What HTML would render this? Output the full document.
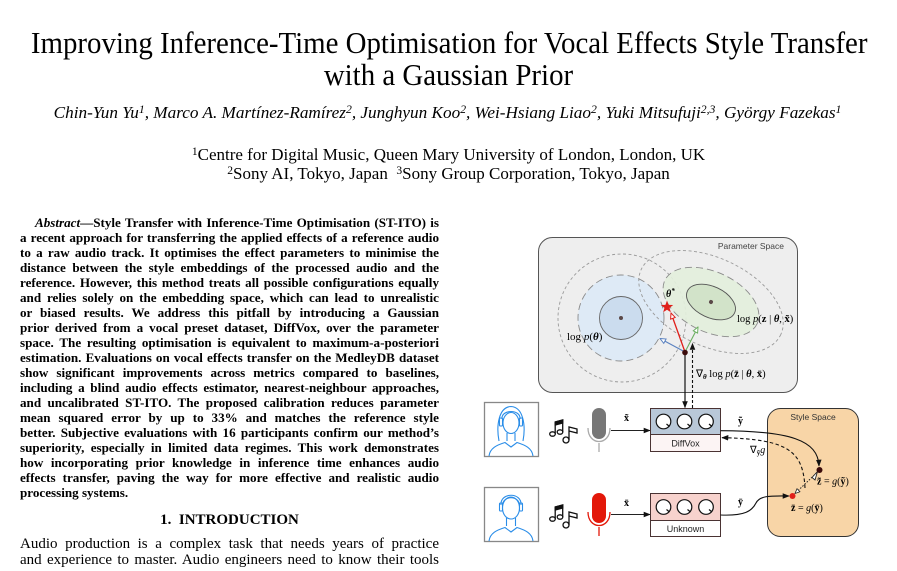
<!DOCTYPE html>
<html>
<head>
<meta charset="utf-8">
<style>
  html,body{margin:0;padding:0;background:#fff;}
  body{width:897px;height:571px;position:relative;overflow:hidden;font-family:"Liberation Serif",serif;color:#000;}
  .abs{position:absolute;}
  .title{left:0;width:897px;top:26.5px;text-align:center;font-size:31px;line-height:32px;transform:scaleX(0.931);transform-origin:448px 0;white-space:nowrap;}
  .authors{left:0;width:895px;top:102.5px;text-align:center;font-size:17.2px;line-height:19px;font-style:italic;white-space:nowrap;}
  .aff{left:0;width:897px;text-align:center;font-size:17px;line-height:19px;white-space:nowrap;}
  sup{font-size:0.68em;line-height:0;vertical-align:0.45em;}
  .abstract{left:20px;width:419px;top:215px;font-weight:bold;font-size:13.1px;}
  .abstract div{height:15px;line-height:15px;text-align:justify;text-align-last:justify;overflow:hidden;}
  .abstract div.last{text-align-last:left;}
  .sec{left:20px;width:419px;top:512px;text-align:center;font-weight:bold;font-size:15px;line-height:16px;white-space:nowrap;}
  .body{left:20px;width:419px;top:535.5px;font-size:15px;}
  .body div{height:16.5px;line-height:16.5px;text-align:justify;text-align-last:justify;overflow:hidden;}
</style>
</head>
<body>

<div class="abs title">Improving Inference-Time Optimisation for Vocal Effects Style Transfer<br>with a Gaussian Prior</div>

<div class="abs authors">Chin-Yun Yu<sup>1</sup>, Marco A. Martínez-Ramírez<sup>2</sup>, Junghyun Koo<sup>2</sup>, Wei-Hsiang Liao<sup>2</sup>, Yuki Mitsufuji<sup>2,3</sup>, György Fazekas<sup>1</sup></div>

<div class="abs aff" style="top:144.75px;"><sup>1</sup>Centre for Digital Music, Queen Mary University of London, London, UK</div>
<div class="abs aff" style="top:163.75px;"><sup>2</sup>Sony AI, Tokyo, Japan&nbsp;&nbsp;<sup>3</sup>Sony Group Corporation, Tokyo, Japan</div>

<div class="abs abstract">
  <div style="padding-left:15px;"><i>Abstract</i>—Style Transfer with Inference-Time Optimisation (ST-ITO) is</div>
  <div>a recent approach for transferring the applied effects of a reference audio</div>
  <div>to a raw audio track. It optimises the effect parameters to minimise the</div>
  <div>distance between the style embeddings of the processed audio and the</div>
  <div>reference. However, this method treats all possible configurations equally</div>
  <div>and relies solely on the embedding space, which can lead to unrealistic</div>
  <div>or biased results. We address this pitfall by introducing a Gaussian</div>
  <div>prior derived from a vocal preset dataset, DiffVox, over the parameter</div>
  <div>space. The resulting optimisation is equivalent to maximum-a-posteriori</div>
  <div>estimation. Evaluations on vocal effects transfer on the MedleyDB dataset</div>
  <div>show significant improvements across metrics compared to baselines,</div>
  <div>including a blind audio effects estimator, nearest-neighbour approaches,</div>
  <div>and uncalibrated ST-ITO. The proposed calibration reduces parameter</div>
  <div>mean squared error by up to 33% and matches the reference style</div>
  <div>better. Subjective evaluations with 16 participants confirm our method’s</div>
  <div>superiority, especially in limited data regimes. This work demonstrates</div>
  <div>how incorporating prior knowledge in inference time enhances audio</div>
  <div>effects transfer, paving the way for more effective and realistic audio</div>
  <div class="last">processing systems.</div>
</div>

<div class="abs sec">1.&nbsp;&nbsp;INTRODUCTION</div>

<div class="abs body">
  <div>Audio production is a complex task that needs years of practice</div>
  <div>and experience to master. Audio engineers need to know their tools</div>
</div>

<svg class="abs" style="left:0;top:0;" width="897" height="571" viewBox="0 0 897 571" xmlns="http://www.w3.org/2000/svg">
  <defs>
    <marker id="ab" viewBox="0 0 10 10" refX="9" refY="5" markerWidth="7" markerHeight="7" orient="auto" markerUnits="userSpaceOnUse">
      <path d="M0,1 L10,5 L0,9 z" fill="#111"/>
    </marker>
    <marker id="or" viewBox="0 0 10 10" refX="9" refY="5" markerWidth="7" markerHeight="7" orient="auto" markerUnits="userSpaceOnUse">
      <path d="M1,1.5 L9,5 L1,8.5 z" fill="#fff" stroke="#e0201b" stroke-width="1.4"/>
    </marker>
    <marker id="obl" viewBox="0 0 10 10" refX="9" refY="5" markerWidth="7" markerHeight="7" orient="auto" markerUnits="userSpaceOnUse">
      <path d="M1,1.5 L9,5 L1,8.5 z" fill="#fff" stroke="#5b82c0" stroke-width="1.4"/>
    </marker>
    <marker id="og" viewBox="0 0 10 10" refX="9" refY="5" markerWidth="7" markerHeight="7" orient="auto" markerUnits="userSpaceOnUse">
      <path d="M1,1.5 L9,5 L1,8.5 z" fill="#fff" stroke="#6aae5f" stroke-width="1.4"/>
    </marker>
    <marker id="ok" viewBox="0 0 10 10" refX="9" refY="5" markerWidth="6" markerHeight="6" orient="auto" markerUnits="userSpaceOnUse">
      <path d="M1,1.5 L9,5 L1,8.5 z" fill="#fff" stroke="#222" stroke-width="1.3"/>
    </marker>
  </defs>

  <!-- Parameter space -->
  <rect x="538.5" y="237.5" width="259" height="155" rx="14" fill="#eeeeee" stroke="#555" stroke-width="1"/>
  <text x="784" y="249" font-family="Liberation Sans, sans-serif" font-size="8.5" fill="#444" text-anchor="end">Parameter Space</text>

  <!-- prior -->
  <circle cx="622" cy="318" r="64" fill="none" stroke="#9a9a9a" stroke-width="0.9" stroke-dasharray="3,2.5"/>
  <circle cx="621" cy="318" r="43" fill="#deeaf6" stroke="#8a8a8a" stroke-width="0.9" stroke-dasharray="7,4"/>

  <!-- likelihood -->
  <g transform="translate(711,302) rotate(25)">
    <ellipse rx="77" ry="44" fill="none" stroke="#9a9a9a" stroke-width="0.9" stroke-dasharray="3,2.5"/>
    <ellipse rx="51" ry="30" fill="#e3efdc" fill-opacity="0.92" stroke="#8a8a8a" stroke-width="0.9" stroke-dasharray="7,4"/>
    <ellipse rx="26" ry="15.5" fill="#d2e3c9" stroke="#555" stroke-width="0.9"/>
    <circle r="2" fill="#5a4848"/>
  </g>

  <circle cx="621" cy="318" r="21.5" fill="#cbdcee" stroke="#666" stroke-width="0.9"/>
  <circle cx="621" cy="318" r="2" fill="#5a4848"/>

  <text x="567" y="340" font-family="Liberation Serif, serif" font-size="11">log <tspan font-style="italic">p</tspan>(<tspan font-weight="bold" font-style="italic">θ</tspan>)</text>
  <text x="737" y="322" font-family="Liberation Serif, serif" font-size="10.5">log <tspan font-style="italic">p</tspan>(<tspan font-weight="bold">z</tspan> | <tspan font-weight="bold" font-style="italic">θ</tspan>, <tspan font-weight="bold">x̃</tspan>)</text>

  <text x="666" y="297" font-family="Liberation Serif, serif" font-size="10" font-style="italic" font-weight="bold">θ<tspan font-size="7" dy="-4">*</tspan></text>
  <polygon points="667,300.5 668.59,304.82 673.18,304.99 669.57,307.83 670.82,312.26 667,309.7 663.18,312.26 664.43,307.83 660.82,304.99 665.41,304.82" fill="#e0201b"/>

  <!-- gradient arrows -->
  <line x1="685" y1="352" x2="671" y2="313" stroke="#e0201b" stroke-width="1.3" marker-end="url(#or)"/>
  <line x1="685" y1="352" x2="660" y2="338.5" stroke="#5b82c0" stroke-width="1.1" marker-end="url(#obl)"/>
  <line x1="685" y1="352" x2="698" y2="327" stroke="#6aae5f" stroke-width="1.1" marker-end="url(#og)"/>

  <line x1="685" y1="353" x2="685" y2="407.5" stroke="#111" stroke-width="1.2" marker-end="url(#ab)"/>
  <line x1="692.5" y1="408" x2="692.5" y2="343.5" stroke="#111" stroke-width="1.1" stroke-dasharray="3,2" marker-end="url(#ab)"/>
  <circle cx="685" cy="352.5" r="2.8" fill="#3b0b0b"/>

  <text x="696" y="377" font-family="Liberation Serif, serif" font-size="10.5">∇<tspan font-size="7" dy="2" font-weight="bold" font-style="italic">θ</tspan><tspan dy="-2"> log </tspan><tspan font-style="italic">p</tspan>(<tspan font-weight="bold">z̄</tspan> | <tspan font-weight="bold" font-style="italic">θ</tspan>, <tspan font-weight="bold">x̄</tspan>)</text>

  <!-- Person 1 -->
  <rect x="484.5" y="402.5" width="54" height="54" fill="#fff" stroke="#888" stroke-width="1.3"/>
  <g fill="none" stroke="#2a8de8" stroke-width="1.1">
    <path d="M499 441 C496 425 499 407 511 406.5 C523 407 526 425 523 441"/>
    <ellipse cx="511" cy="423" rx="8" ry="10.5"/>
    <path d="M502 419 C501 409 521 409 520 419"/>
    <rect x="499.5" y="418" width="3" height="8" rx="1"/>
    <rect x="519.5" y="418" width="3" height="8" rx="1"/>
    <path d="M507 433 L507 441 M515 433 L515 441"/>
    <path d="M489 456 C490 448 497 445 505 442.5 L511 447 L517 442.5 C525 445 532 448 533 456"/>
  </g>
  <!-- Person 2 -->
  <rect x="484.5" y="487.5" width="54" height="54" fill="#fff" stroke="#888" stroke-width="1.3"/>
  <g fill="none" stroke="#2a8de8" stroke-width="1.1">
    <ellipse cx="511" cy="508" rx="8.5" ry="11"/>
    <path d="M502.5 506 C502 495 520 495 519.5 506"/>
    <path d="M501 505 C500 492 522 492 521 505"/>
    <rect x="499.5" y="503" width="3" height="8" rx="1"/>
    <rect x="519.5" y="503" width="3" height="8" rx="1"/>
    <path d="M506.5 518 L506.5 526 M515.5 518 L515.5 526"/>
    <path d="M489 541 C490 533 497 530 505 527.5 L511 532 L517 527.5 C525 530 532 533 533 541"/>
  </g>

  <!-- music notes 1 -->
  <g fill="#fff" stroke="#111" stroke-width="1.3">
    <ellipse cx="552.5" cy="434" rx="2.8" ry="2.2"/>
    <ellipse cx="560" cy="432" rx="2.8" ry="2.2"/>
    <path d="M555.2 434 L555.2 422 L562.7 420 L562.7 432" fill="none"/>
    <path d="M555.2 422 L562.7 420 L562.7 423 L555.2 425 z" fill="#111"/>
    <circle cx="566" cy="440" r="3"/>
    <path d="M569 440 L569 427 L577 429 L577 433 L569 431" fill="none"/>
  </g>
  <!-- music notes 2 -->
  <g fill="#fff" stroke="#111" stroke-width="1.3">
    <ellipse cx="552.5" cy="519" rx="2.8" ry="2.2"/>
    <ellipse cx="560" cy="517" rx="2.8" ry="2.2"/>
    <path d="M555.2 519 L555.2 507 L562.7 505 L562.7 517" fill="none"/>
    <path d="M555.2 507 L562.7 505 L562.7 508 L555.2 510 z" fill="#111"/>
    <circle cx="566" cy="525" r="3"/>
    <path d="M569 525 L569 512 L577 514 L577 518 L569 516" fill="none"/>
  </g>

  <!-- mic 1 -->
  <path d="M588 428 C588 446 610 446 610 428" fill="none" stroke="#aaa" stroke-width="1.3"/>
  <line x1="599" y1="443" x2="599" y2="452" stroke="#aaa" stroke-width="1.3"/>
  <rect x="592" y="408" width="14" height="31" rx="7" fill="#777"/>
  <!-- mic 2 -->
  <path d="M588 512 C588 530 610 530 610 512" fill="none" stroke="#e3180a" stroke-width="1.3"/>
  <line x1="599" y1="527" x2="599" y2="536" stroke="#e3180a" stroke-width="1.3"/>
  <rect x="592" y="493" width="14" height="30" rx="7" fill="#e3180a"/>

  <!-- x lines -->
  <line x1="611" y1="430.5" x2="650" y2="430.5" stroke="#222" stroke-width="1" marker-end="url(#ab)"/>
  <line x1="611" y1="514.5" x2="650" y2="514.5" stroke="#222" stroke-width="1" marker-end="url(#ab)"/>
  <text x="624" y="421" font-family="Liberation Serif, serif" font-size="10" font-weight="bold">x̃</text>
  <text x="624" y="506" font-family="Liberation Serif, serif" font-size="10" font-weight="bold">x̄</text>

  <!-- DiffVox box -->
  <rect x="650.5" y="408.5" width="70" height="43" fill="#fcf4f4"/>
  <rect x="650.5" y="408.5" width="70" height="26" fill="#b9c8d8"/>
  <rect x="650.5" y="408.5" width="70" height="43" fill="none" stroke="#4a3333" stroke-width="1"/>
  <line x1="650.5" y1="434.5" x2="720.5" y2="434.5" stroke="#4a3333" stroke-width="1"/>
  <g fill="#fff" stroke="#111" stroke-width="1.2">
    <circle cx="663.5" cy="421.5" r="7.3"/>
    <circle cx="684.5" cy="421.5" r="7.3"/>
    <circle cx="706" cy="421.5" r="7.3"/>
  </g>
  <g stroke="#111" stroke-width="1.2">
    <line x1="666.5" y1="424" x2="669.5" y2="426.5"/>
    <line x1="687.5" y1="424" x2="690.5" y2="426.5"/>
    <line x1="709" y1="424" x2="712" y2="426.5"/>
  </g>
  <text x="685.5" y="446.5" font-family="Liberation Sans, sans-serif" font-size="9" text-anchor="middle" fill="#222">DiffVox</text>

  <!-- Unknown box -->
  <rect x="650.5" y="493.5" width="70" height="43" fill="#fff"/>
  <rect x="650.5" y="493.5" width="70" height="27" fill="#f7d2cd"/>
  <rect x="650.5" y="493.5" width="70" height="43" fill="none" stroke="#4a3333" stroke-width="1"/>
  <line x1="650.5" y1="520.5" x2="720.5" y2="520.5" stroke="#4a3333" stroke-width="1"/>
  <g fill="#fff" stroke="#111" stroke-width="1.2">
    <circle cx="663.5" cy="507" r="7.3"/>
    <circle cx="684.5" cy="507" r="7.3"/>
    <circle cx="706" cy="507" r="7.3"/>
  </g>
  <g stroke="#111" stroke-width="1.2">
    <line x1="666.5" y1="509.5" x2="669.5" y2="512"/>
    <line x1="687.5" y1="509.5" x2="690.5" y2="512"/>
    <line x1="709" y1="509.5" x2="712" y2="512"/>
  </g>
  <text x="685.5" y="532" font-family="Liberation Sans, sans-serif" font-size="9" text-anchor="middle" fill="#222">Unknown</text>

  <!-- Style space -->
  <rect x="767.5" y="408.5" width="91" height="128" rx="13" fill="#f8d5a7" stroke="#333" stroke-width="1"/>
  <text x="813" y="420" font-family="Liberation Sans, sans-serif" font-size="8.5" text-anchor="middle" fill="#333">Style Space</text>

  <!-- y tilde curve -->
  <path d="M720.5 430.7 C790 431 818 440 819 466" fill="none" stroke="#111" stroke-width="1.1" marker-end="url(#ab)"/>
  <text x="738" y="424" font-family="Liberation Serif, serif" font-size="10" font-weight="bold">ỹ</text>

  <!-- dashed back curve -->
  <path d="M805 488 C803 452 790 439 722 437.7" fill="none" stroke="#111" stroke-width="1.1" stroke-dasharray="3.5,2.5" marker-end="url(#ab)"/>
  <text x="750" y="453" font-family="Liberation Serif, serif" font-size="10">∇<tspan font-size="7" dy="2" font-weight="bold">ỹ</tspan><tspan dy="-2" font-style="italic">g</tspan></text>

  <!-- y bar curve -->
  <path d="M720.5 515 C745 516 752 511 756 503 C760 495 772 496 789 496" fill="none" stroke="#111" stroke-width="1.1" marker-end="url(#ab)"/>
  <text x="738" y="505" font-family="Liberation Serif, serif" font-size="10" font-weight="bold">ȳ</text>

  <!-- dotted double arrow -->
  <line x1="816.5" y1="473" x2="795" y2="493.5" stroke="#222" stroke-width="1" stroke-dasharray="1.5,1.5" marker-end="url(#ok)"/>
  <path d="M812 477.5 L817.5 471.5 L815 480 z" fill="#fff" stroke="#222" stroke-width="0.9"/>

  <circle cx="819.5" cy="470" r="3" fill="#3a0a0a"/>
  <circle cx="792.5" cy="496" r="3" fill="#e0201b"/>

  <text x="817" y="484.5" font-family="Liberation Serif, serif" font-size="10"><tspan font-weight="bold">z̃</tspan> = <tspan font-style="italic">g</tspan>(<tspan font-weight="bold">ỹ</tspan>)</text>
  <text x="791" y="511" font-family="Liberation Serif, serif" font-size="10"><tspan font-weight="bold">z̄</tspan> = <tspan font-style="italic">g</tspan>(<tspan font-weight="bold">ȳ</tspan>)</text>
</svg>

</body>
</html>
